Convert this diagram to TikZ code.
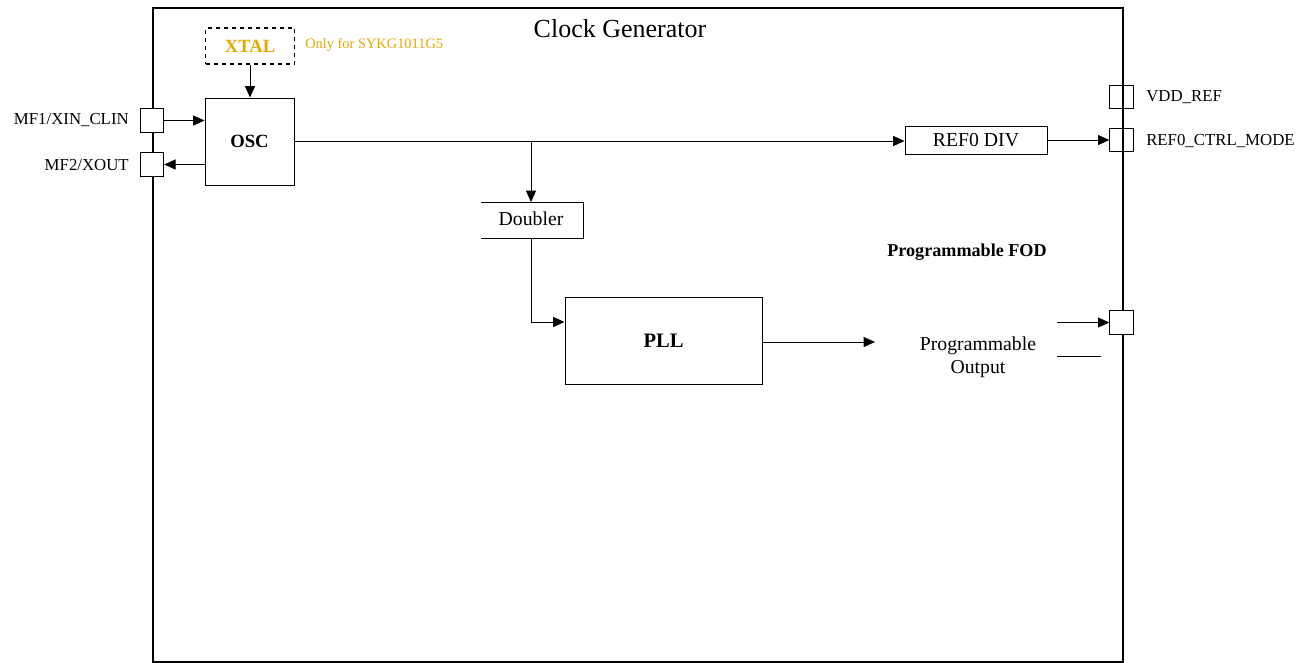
\documentclass[tikz,border=0pt]{standalone}
\usepackage{fontspec}
\setmainfont{Liberation Serif}
\usetikzlibrary{arrows.meta}
\definecolor{xgold}{RGB}{228,168,0}
\tikzset{
  pin/.style={draw, line width=0.75pt, fill=white, minimum width=17.5pt, minimum height=17.5pt, inner sep=0pt},
  pinopen/.style={draw, line width=0.75pt, minimum width=17.5pt, minimum height=17.5pt, inner sep=0pt},
  conn/.style={line width=0.75pt, -{Triangle[length=8.5pt,width=7.5pt]}},
  plain/.style={line width=0.75pt},
  lbl/.style={font=\fontsize{12.6}{15}\selectfont, inner sep=0pt},
  txt/.style={font=\fontsize{14.8}{17}\selectfont, inner sep=0pt}
}
\begin{document}
\begin{tikzpicture}[x=0.75pt,y=-0.75pt]
\useasboundingbox (0,0) rectangle (1311,662);
% main frame
\node[draw, line width=1.5pt, minimum width=727.5pt, minimum height=490.5pt, anchor=north west, inner sep=0pt] (frame) at (152,7) {};
\node[font=\fontsize{19.5}{22}\selectfont, inner sep=0pt] (title) at (620,29) {Clock Generator};
% XTAL
\node[draw, dashed, line width=1.1pt, minimum width=66.75pt, minimum height=27pt, inner sep=0pt, text=xgold, font=\fontsize{14}{16}\selectfont\bfseries] (xtal) at (250,46) {XTAL};
\node[lbl, text=xgold, font=\fontsize{10.8}{13}\selectfont, anchor=west] (only) at (305,45) {Only for SYKG1011G5};
% OSC
\node[draw, line width=0.75pt, minimum width=66.75pt, minimum height=65.25pt, inner sep=0pt, font=\fontsize{14}{16}\selectfont\bfseries] (osc) at (249.5,141.5) {OSC};
% left pins
\node[pin] (p1) at (152,120.5) {};
\node[pin] (p2) at (152,164.5) {};
\node[lbl, anchor=east] (l1) at (129,120) {MF1/XIN\_CLIN};
\node[lbl, anchor=east] (l2) at (129,165) {MF2/XOUT};
% right pins
\node[pinopen] (vdd) at (1121.5,97) {};
\node[pinopen] (refp) at (1121.5,140) {};
\node[pin] (outp) at (1121.5,322.5) {};
\node[lbl, anchor=west] (lvdd) at (1146,97) {VDD\_REF};
\node[lbl, anchor=west] (lref) at (1146,141) {REF0\_CTRL\_MODE};
% REF0 DIV
\node[draw, line width=0.75pt, minimum width=106.5pt, minimum height=21pt, inner sep=0pt, txt] (refdiv) at (976,140) {REF0 DIV};
% Doubler (open on left)
\draw[plain] (481,202) -- (583,202) -- (583,238) -- (481,238);
\node[txt] (dbl) at (531,219) {Doubler};
\coordinate (dtop) at (531,202);
\coordinate (dbot) at (531,238);
% PLL
\node[draw, line width=0.75pt, minimum width=147.75pt, minimum height=65.25pt, inner sep=0pt, font=\fontsize{15.4}{18}\selectfont\bfseries] (pll) at (663.5,340.5) {PLL};
% FOD
\node[font=\fontsize{13.6}{16}\selectfont\bfseries, inner sep=0pt] (fod) at (967,252) {Programmable FOD};
\node[txt, align=center, font=\fontsize{14.8}{17.25}\selectfont] (po) at (978,357) {Programmable\\Output};
% connectors
\draw[conn] (xtal.south) -- (osc.north -| xtal.south);
\draw[conn] (p1.east) -- (osc.west |- p1.east);
\draw[conn] (osc.west |- p2.east) -- (p2.east);
\coordinate (br) at (531,141);
\draw[conn] (osc.east |- br) -- (refdiv.west |- br);
\draw[conn] (br) -- (dtop);
\draw[conn] (refdiv.east) -- (refp.west);
\draw[conn] (dbot) -- (531,322) -- (pll.west |- 0,322);
\coordinate (pllend) at (875,342);
\draw[conn] (pll.east |- pllend) -- (pllend);
\coordinate (o1) at (1057,322.5);
\draw[conn] (o1) -- (outp.west);
\coordinate (o2a) at (1057,356);
\coordinate (o2b) at (1101,356);
\draw[plain] (o2a) -- (o2b);
\end{tikzpicture}
\end{document}
